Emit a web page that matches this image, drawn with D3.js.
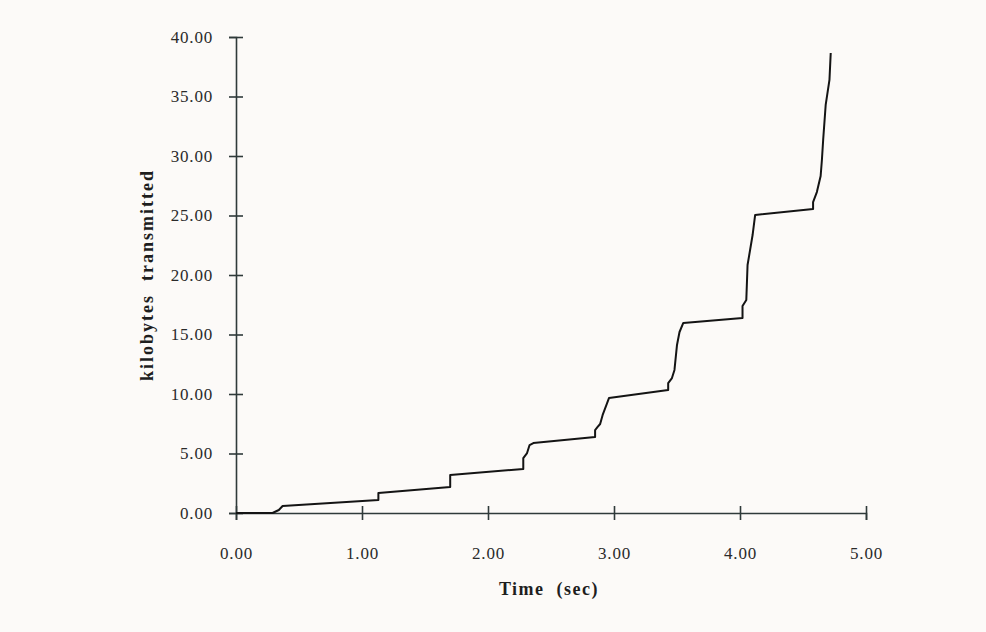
<!DOCTYPE html>
<html>
<head>
<meta charset="utf-8">
<script src="https://cdn.jsdelivr.net/npm/d3@7"></script>
<style>
  html, body { margin: 0; padding: 0; background: #fcfaf8; }
  svg { display: block; }
  .axis path, .axis line { stroke: #2f3a3a; stroke-width: 1.6; }
  .axis text { font-family: "Liberation Serif", "Times New Roman", serif; font-size: 17px; fill: #2a2a2a; letter-spacing: 0.8px; }
  .title { font-family: "Liberation Serif", "Times New Roman", serif; font-size: 18px; font-weight: bold; fill: #1e1e1e; }
</style>
</head>
<body>
<div id="main"></div>
<script>
// cumulative kilobytes sent vs time
const timeSec = [0, 0.29, 0.34, 0.37, 1.13, 1.13, 1.70, 1.70, 2.28, 2.28, 2.31, 2.33, 2.36,
  2.85, 2.85, 2.87, 2.89, 2.91, 2.94, 2.96, 3.43, 3.43, 3.46, 3.48, 3.50, 3.52, 3.55,
  4.02, 4.02, 4.05, 4.06, 4.10, 4.12, 4.58, 4.58, 4.61, 4.64, 4.65, 4.66, 4.68, 4.71, 4.72];
const kbSent = [0, 0, 0.25, 0.59, 1.09, 1.68, 2.18, 3.19, 3.70, 4.62, 5.04, 5.71, 5.88,
  6.39, 6.97, 7.23, 7.48, 8.24, 9.08, 9.66, 10.34, 10.92, 11.34, 12.02, 14.12, 15.21, 15.97,
  16.39, 17.39, 17.90, 20.84, 23.36, 25.04, 25.55, 26.13, 26.97, 28.32, 29.66, 31.34, 34.29, 36.39, 38.66];
const xTicks = [0, 1, 2, 3, 4, 5];
const yTicks = [0, 5, 10, 15, 20, 25, 30, 35, 40];

function main() {
  const width = 986, height = 632;
  const svg = d3.select('#main').append('svg')
    .attr('width', width)
    .attr('height', height);

  const x = d3.scaleLinear().domain([0, 5]).range([236, 866]);
  const y = d3.scaleLinear().domain([0, 40]).range([513, 37]);
  const fmt = d3.format('.2f');

  // x axis, ticks cross the line
  const gx = svg.append('g')
    .attr('class', 'axis')
    .attr('transform', `translate(0,${y(0)})`)
    .call(d3.axisBottom(x).tickValues(xTicks).tickFormat(fmt).tickSizeOuter(0).tickSize(7).tickPadding(27));
  gx.selectAll('.tick line').attr('y1', -7).attr('y2', 7);

  // y axis
  const gy = svg.append('g')
    .attr('class', 'axis')
    .attr('transform', `translate(${x(0)},0)`)
    .call(d3.axisLeft(y).tickValues(yTicks).tickFormat(fmt).tickSizeOuter(0).tickSize(7).tickPadding(16));
  gy.selectAll('.tick line').attr('x1', -7).attr('x2', 7);

  // the step curve
  const line = d3.line()
    .x((d, i) => x(timeSec[i]))
    .y(d => y(d));
  svg.append('path')
    .attr('d', line(kbSent))
    .attr('fill', 'none')
    .attr('stroke', '#141414')
    .attr('stroke-width', 2)
    .attr('stroke-linejoin', 'round');

  // titles
  svg.append('text')
    .attr('class', 'title')
    .attr('x', 549)
    .attr('y', 595)
    .attr('text-anchor', 'middle')
    .attr('xml:space', 'preserve')
    .style('letter-spacing', '1.5px')
    .text('Time  (sec)');
  svg.append('text')
    .attr('class', 'title')
    .attr('transform', `translate(153,${(y(0) + y(40)) / 2}) rotate(-90)`)
    .attr('text-anchor', 'middle')
    .attr('xml:space', 'preserve')
    .style('letter-spacing', '2px')
    .text('kilobytes  transmitted');
}
document.addEventListener('DOMContentLoaded', main);
</script>
</body>
</html>
